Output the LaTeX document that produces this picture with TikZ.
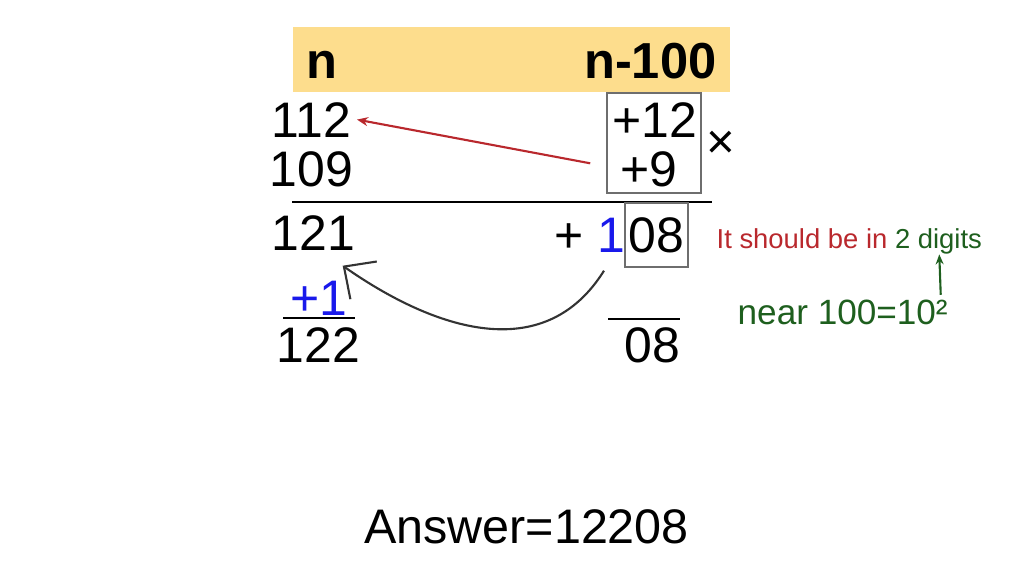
\documentclass[tikz,border=0pt]{standalone}
\usepackage{fontspec}
\setmainfont{Liberation Sans}
\usepackage{tikz}
\usetikzlibrary{calc,arrows.meta}
\definecolor{bandyellow}{RGB}{253,221,141}
\definecolor{noteRed}{RGB}{185,40,45}
\definecolor{noteGreen}{RGB}{30,95,30}
\definecolor{carryBlue}{RGB}{25,25,235}
\definecolor{boxGray}{RGB}{110,110,110}

\begin{document}
\begin{tikzpicture}[scale=1,
  num/.style={inner sep=0pt,font=\fontsize{14.2}{16}\selectfont},
  head/.style={inner sep=0pt,font=\fontsize{14.4}{17}\selectfont\bfseries},
  note/.style={inner sep=0pt,font=\fontsize{7.8}{9}\selectfont},
  gbox/.style={draw=boxGray,line width=0.4pt}]
\useasboundingbox (0,0) rectangle (10.24,5.76);
% header band
\fill[bandyellow] (2.93,4.84) rectangle (7.30,5.49);
\node[head,anchor=base west] (hn) at (3.06,4.98) {n};
\node[head,anchor=base east] (hd) at (7.17,4.98) {n-100};
% the two numbers and their excess over 100
\node[num,anchor=base west] (a112) at (2.71,4.39) {112};
\node[num,anchor=base west] (a109) at (2.69,3.90) {109};
\node[num,anchor=base east] (twelve) at (6.98,4.39) {+12};
\node[num,anchor=base east] (nine) at (6.78,3.90) {+9};
\node[gbox,minimum width=0.94cm,minimum height=1.0cm] (pair) at (6.54,4.33) {};
\node[num,font=\fontsize{14}{16}\selectfont] (times) at (7.21,4.31) {×};
\draw[noteRed,line width=0.6pt,-{Stealth[length=1.1mm,width=0.9mm]},shorten <=3mm] (nine.west) -- ([xshift=0.5mm]a112.east);
\draw[line width=0.6pt] (2.92,3.74) -- (7.12,3.74);
% results
\node[num,anchor=base west] (r121) at (2.71,3.26) {121};
\node[num,gbox,minimum width=0.63cm,minimum height=0.64cm] (eight) at (6.565,3.41) {08};
\node[num,anchor=base east] (plusone) at (6.26,3.24) {+ {\color{carryBlue}1}};
\node[note,anchor=base west] (digits) at (7.16,3.28) {{\color{noteRed}It should be in} {\color{noteGreen}2 digits}};
\node[note,noteGreen,font=\fontsize{10}{12}\selectfont,anchor=base west] (near) at (7.37,2.52) {near 100=10²};
\draw[noteGreen,line width=0.6pt,-{Stealth[length=1mm,width=0.8mm]}] ([xshift=9.8mm,yshift=0.4mm]near.north) -- ([xshift=9.0mm]digits.south);
% carry
\draw[black!80,line width=0.6pt,-{Straight Barb[length=2.4mm,width=4.6mm]}] ([xshift=-2.2mm,yshift=-1.8mm]plusone.south east) to[out=238,in=-35,looseness=1.1] ([xshift=-1.3mm,yshift=-1.5mm]r121.south east);
\node[num,carryBlue,anchor=base west] (carry) at (2.90,2.61) {+1};
\draw[line width=0.6pt] (2.83,2.58) -- (3.55,2.58);
\node[num,anchor=base west] (r122) at (2.76,2.14) {122};
\draw[line width=0.6pt] (6.08,2.57) -- (6.80,2.57);
\node[num,anchor=base west] (r08) at (6.24,2.14) {08};
\node[num,font=\fontsize{13.8}{16}\selectfont,anchor=base] (answer) at (5.265,0.33) {Answer=12208};
\end{tikzpicture}
\end{document}
